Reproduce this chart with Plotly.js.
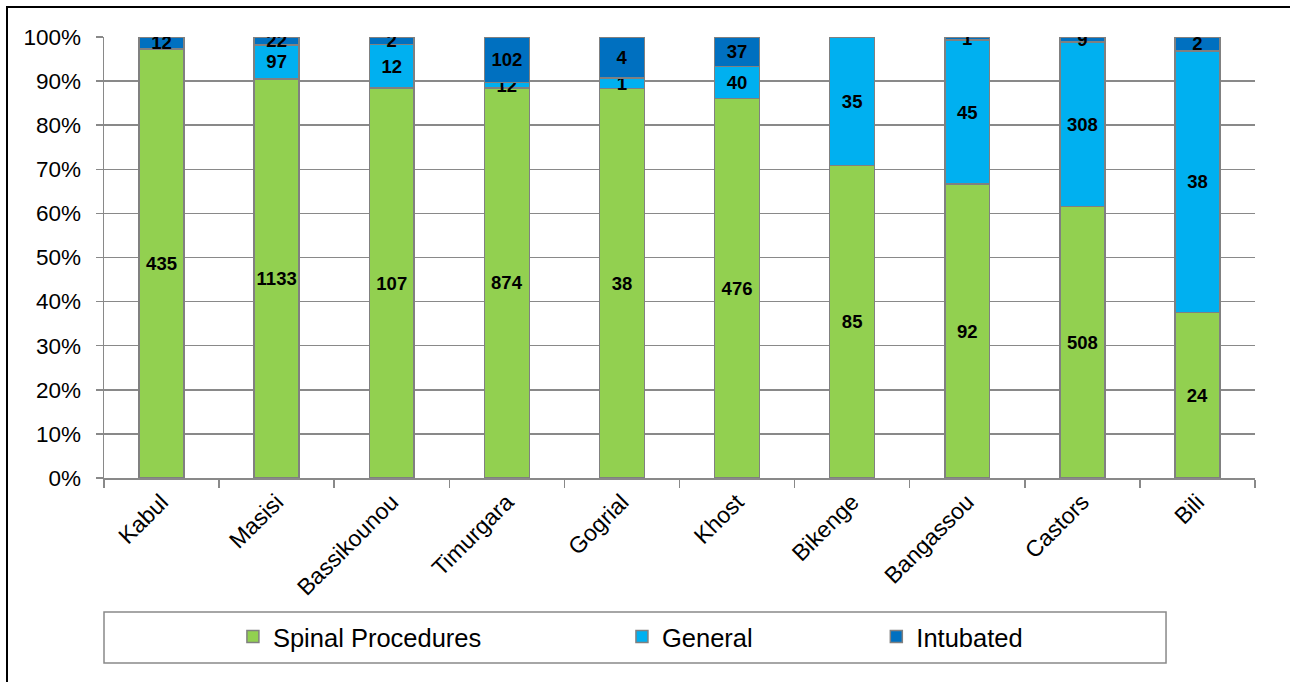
<!DOCTYPE html>
<html>
<head>
<meta charset="utf-8">
<script src="https://cdn.plot.ly/plotly-3.0.1.min.js"></script>
<style>
  html, body { margin: 0; padding: 0; background: #fff; }
  #wrap { position: relative; width: 1290px; height: 682px; overflow: hidden; }
  #chart { width: 1290px; height: 682px; }
  #frame { position: absolute; left: 6px; top: 6px; width: 1400px; height: 800px;
           border-left: 2px solid #000; border-top: 2px solid #000; pointer-events: none; }
</style>
</head>
<body>
<div id="wrap">
  <div id="chart"></div>
  <div id="frame"></div>
</div>
<script>
const sites = ["Kabul", "Masisi", "Bassikounou", "Timurgara", "Gogrial", "Khost", "Bikenge", "Bangassou", "Castors", "Bili"];
const spinal = [435, 1133, 107, 874, 38, 476, 85, 92, 508, 24];
const general = [0, 97, 12, 12, 1, 40, 35, 45, 308, 38];
const intubated = [12, 22, 2, 102, 4, 37, 0, 1, 9, 2];
const seriesNames = ["Spinal Procedures", "General", "Intubated"];
const seriesColors = ["#92D050", "#00B0F0", "#0070C0"];

const FONT = "Liberation Sans, Arial, sans-serif";
const GRID = "#898989";

function mk(vals, i, legendId) {
  return {
    type: "bar",
    name: seriesNames[i],
    x: sites,
    y: vals,
    text: vals.map(v => v > 0 ? String(v) : ""),
    texttemplate: "%{text}",
    textposition: "inside",
    insidetextanchor: "middle",
    textangle: 0,
    constraintext: "none",
    textfont: { family: FONT, size: 18.5, color: "#000", weight: "bold" },
    marker: { color: seriesColors[i], line: { color: "#808080", width: 1.5 } },
    legend: legendId,
    hoverinfo: "x+y+name"
  };
}

const data = [
  mk(spinal, 0, "legend"),
  mk(general, 1, "legend2"),
  mk(intubated, 2, "legend3")
];

const legendBase = {
  orientation: "h",
  yanchor: "middle",
  y: -0.3605,
  xanchor: "left",
  bgcolor: "rgba(0,0,0,0)",
  borderwidth: 0,
  font: { family: FONT, size: 25.5, color: "#000" }
};

const layout = {
  width: 1290,
  height: 682,
  margin: { l: 104, r: 35, t: 37, b: 204 },
  paper_bgcolor: "#fff",
  plot_bgcolor: "#fff",
  barmode: "stack",
  barnorm: "percent",
  bargap: 0.61,
  showlegend: true,
  font: { family: FONT, color: "#000" },
  xaxis: {
    type: "category",
    tickangle: -45,
    tickfont: { family: FONT, size: 23, color: "#000" },
    ticks: "outside",
    tickson: "boundaries",
    ticklen: 8,
    tickwidth: 1.5,
    tickcolor: GRID,
    showline: true,
    linecolor: GRID,
    linewidth: 1.5,
    showgrid: false,
    zeroline: false
  },
  yaxis: {
    range: [0, 100],
    dtick: 10,
    ticksuffix: "%",
    tickfont: { family: FONT, size: 22.5, color: "#000" },
    ticks: "outside",
    ticklen: 7,
    tickwidth: 1.5,
    tickcolor: GRID,
    ticklabelstandoff: 10,
    showline: true,
    linecolor: GRID,
    linewidth: 1.5,
    showgrid: true,
    gridcolor: GRID,
    gridwidth: 1.5,
    zeroline: false
  },
  legend: Object.assign({}, legendBase, { x: 0.112 }),
  legend2: Object.assign({}, legendBase, { x: 0.450 }),
  legend3: Object.assign({}, legendBase, { x: 0.671 }),
  shapes: [{
    type: "rect",
    xref: "paper", yref: "paper",
    x0: 0, x1: 0.9227, y0: -0.4195, y1: -0.3039,
    line: { color: GRID, width: 1.5 },
    fillcolor: "rgba(0,0,0,0)",
    layer: "below"
  }]
};

Plotly.newPlot("chart", data, layout, { displayModeBar: false, staticPlot: true });
</script>
</body>
</html>
